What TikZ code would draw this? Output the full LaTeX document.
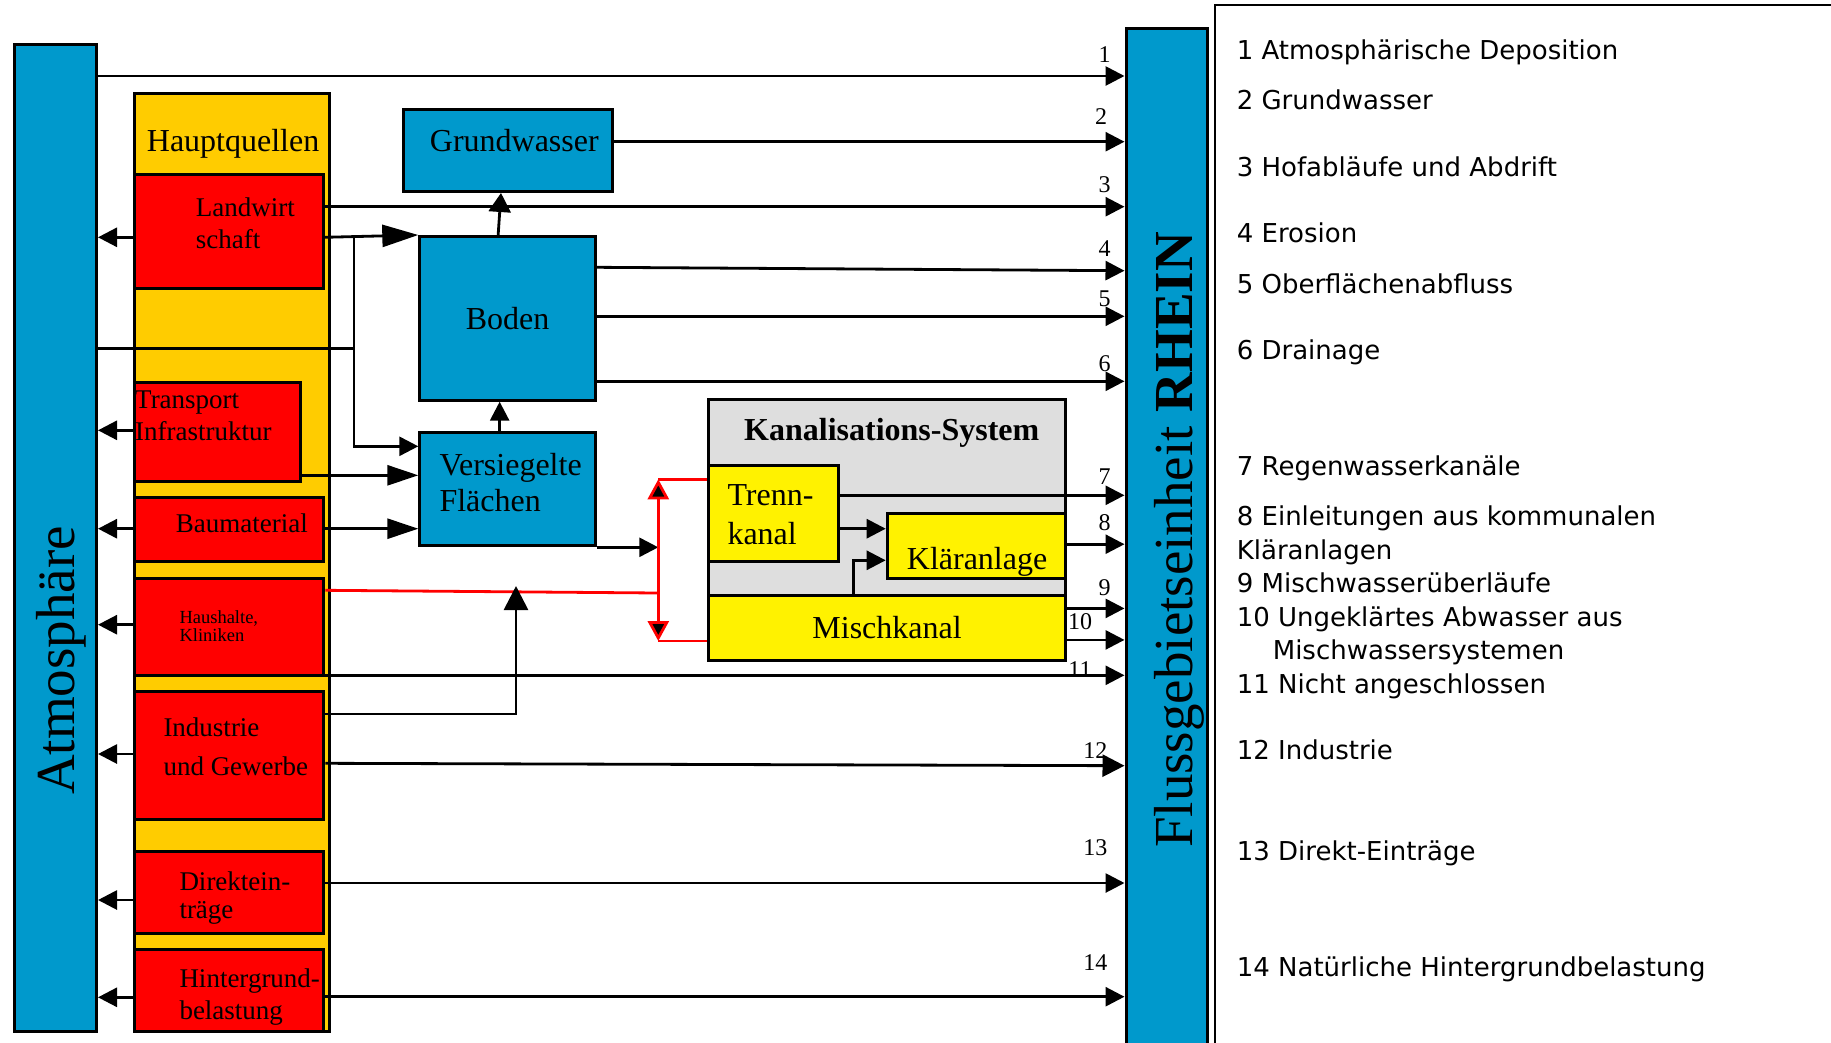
\documentclass[tikz,border=0pt]{standalone}
\usepackage{fontspec}
\setmainfont{Liberation Serif}
\newfontfamily\legendfont{DejaVu Sans}
\usetikzlibrary{arrows.meta}

\definecolor{flussblau}{RGB}{0,153,204}
\definecolor{quellgelb}{RGB}{255,204,0}

\tikzset{
  box/.style={draw=black, line width=3pt, inner sep=0pt, anchor=north west},
  wh/.style 2 args={minimum width=#1pt, minimum height=#2pt},
  blaubox/.style={box, fill=flussblau},
  rotbox/.style={box, fill=red},
  gelbbox/.style={box, fill=yellow},
  txt/.style 2 args={inner sep=0pt, anchor=base west, align=left, font=\fontsize{#1}{#2}\selectfont},
  plain/.style={line width=2.8pt},
  flow/.style={plain, -{Triangle[length=19pt,width=19pt]}},
  longflow/.style={plain, -{Triangle[length=31pt,width=20pt]}},
  bigflow/.style={plain, -{Triangle[length=36pt,width=22pt]}},
  redline/.style={draw=red, line width=2.8pt},
  num/.style={inner sep=0pt, font=\fontsize{24}{24}\selectfont},
  legtxt/.style={inner sep=0pt, anchor=base west, align=left, font=\legendfont\fontsize{26}{33.8}\selectfont},
}

\begin{document}
\begin{tikzpicture}[x=1pt, y=-1pt]
\useasboundingbox (0,0) rectangle (1831,1042);
\clip (0,0) rectangle (1831,1042);

% Atmosphaere und Hauptquellen
\node[blaubox, wh={82.3}{986.7}] (atmo) at (12.7,43.3) {};
\node[box, fill=quellgelb, wh={195}{937.7}] (haupt) at (133.3,92.3) {};
\node[rotbox, wh={188.4}{113.4}] (landw) at (133.3,173.3) {};
\node[rotbox, wh={165.7}{98.4}] (transp) at (133.3,381.3) {};
\node[rotbox, wh={189}{64.3}] (baumat) at (133.3,496) {};
\node[rotbox, wh={189}{96.7}] (haush) at (133.3,577) {};
\node[rotbox, wh={189}{128}] (indus) at (133.3,690) {};
\node[rotbox, wh={189}{82.3}] (direkt) at (133.3,850) {};
\node[rotbox, wh={189}{82}] (hinterg) at (133.3,948) {};

% Boden, Grundwasser, Flaechen
\node[blaubox, wh={208.4}{81.7}] (grundw) at (402.3,108.3) {};
\node[blaubox, wh={175.7}{163.7}, font=\fontsize{32}{38}\selectfont] (boden) at (418.3,235) {Boden};
\node[blaubox, wh={175.7}{113.3}] (versieg) at (418.3,431) {};

% Kanalisation
\node[box, fill=black!13, wh={356.5}{260.7}] (kanal) at (707.3,398) {};
\node[gelbbox, wh={129.4}{96}] (trenn) at (707.3,463.7) {};
\node[gelbbox, wh={178.1}{65}] (klaer) at (885.7,512) {};
\node[gelbbox, wh={356.5}{65}, font=\fontsize{32}{38}\selectfont] (misch) at (707.3,593.7) {Mischkanal};

% Rhein und Legende
\node[blaubox, wh={81.7}{1100}] (rhein) at (1124.5,26.9) {};
\node[draw, line width=2pt, inner sep=0pt, anchor=north west, wh={700}{1100}] (legende) at (1214.4,3.5) {};

% Beschriftungen (mehrzeilig: Basislinie der letzten Zeile)
\node[rotate=90, anchor=base, inner sep=0pt, font=\fontsize{55}{60}\selectfont] (atmo-t) at (74,660.5) {Atmosphäre};
\node[txt={32}{38}] (haupt-t) at (146.7,151.7) {Hauptquellen};
\node[txt={27}{32.3}] (landw-t) at (195.7,248.3) {Landwirt\\schaft};
\node[txt={27}{32.3}] (transp-t) at (135,440.3) {Transport\\Infrastruktur};
\node[txt={27}{32}] (baumat-t) at (175.7,532) {Baumaterial};
\node[txt={18.5}{18.3}] (haush-t) at (179.3,641.3) {Haushalte,\\Kliniken};
\node[txt={27}{39}] (indus-t) at (163.3,775.7) {Industrie\\und Gewerbe};
\node[txt={27}{28}] (direkt-t) at (179.3,918) {Direktein-\\träge};
\node[txt={27}{31.7}] (hinterg-t) at (179.3,1019) {Hintergrund-\\belastung};
\node[txt={32}{38}] (grundw-t) at (429.7,151.7) {Grundwasser};
\node[txt={32}{35.7}] (versieg-t) at (439.3,511) {Versiegelte\\Flächen};
\node[txt={32}{38}] (kanal-t) at (744,440.3) {\textbf{Kanalisations-System}};
\node[txt={32}{39}] (trenn-t) at (727.3,544.3) {Trenn-\\kanal};
\node[txt={32}{38}] (klaer-t) at (906.7,569.7) {Kläranlage};
\node[rotate=90, anchor=base, inner sep=0pt, font=\fontsize{55}{60}\selectfont] (rhein-t) at (1192,540) {Flussgebietseinheit \textbf{RHEIN}};

% Eintraege in den Rhein
\draw[flow] (atmo.east |- 0,76) -- (rhein.west |- 0,76);
\draw[flow] (grundw.east |- 0,141.7) -- (rhein.west |- 0,141.7);
\draw[flow] (landw.east |- 0,206.7) -- (rhein.west |- 0,206.7);
\draw[flow] (boden.east |- 0,267.3) -- (rhein.west |- 0,270.7);
\draw[flow] (boden.east |- 0,316.3) -- (rhein.west |- 0,316.3);
\draw[flow] (boden.east |- 0,381.3) -- (rhein.west |- 0,381.3);
\draw[flow] (trenn.east |- 0,495.3) -- (rhein.west |- 0,495.3);
\draw[flow] (klaer.east |- 0,544.2) -- (rhein.west |- 0,544.2);
\draw[flow] (misch.east |- 0,608.4) -- (rhein.west |- 0,608.4);
\draw[flow] (misch.east |- 0,639.9) -- (rhein.west |- 0,639.9);
\draw[flow] (transp.east |- 0,675.3) -- (rhein.west |- 0,675.3);
\draw[plain, -{Triangle[length=22pt,width=22pt]}] (indus.east |- 0,763.3) -- (rhein.west |- 0,765.7);
\draw[flow] (direkt.east |- 0,883) -- (rhein.west |- 0,883);
\draw[flow] (hinterg.east |- 0,996.7) -- (rhein.west |- 0,996.7);

\foreach \x/\y/\n in {1104.6/54.9/1, 1101/116.8/2, 1104.6/184.5/3, 1104.6/248.7/4,
    1104.6/298.9/5, 1104.6/363.2/6, 1104.6/476.4/7, 1104.6/523.1/8, 1104.6/587.4/9,
    1080/621.2/10, 1080/669.1/11, 1095.3/750.8/12, 1095.3/847.7/13, 1095.3/962.2/14}
  \node[num] (n\n) at (\x,\y) {\n};

% Emissionen in die Atmosphaere
\foreach \q/\y in {landw/237.3, transp/430.3, baumat/528.7, haush/624.7,
    indus/754, direkt/900, hinterg/997.3}
  \draw[flow] (\q.west |- 0,\y) -- (atmo.east |- 0,\y);

% Wege ueber Boden und Flaechen
\coordinate (knot) at (354,237.3);
\draw[bigflow] (landw.east |- knot) -- (boden.north west);
\draw[plain] (atmo.east |- 0,348.7) -- (knot |- 0,348.7);
\draw[flow] (knot) |- (versieg.west |- 0,446.3);
\draw[longflow] (transp.east |- 0,475.3) -- (versieg.west |- 0,475.3);
\draw[longflow] (baumat.east |- 0,528.7) -- (versieg.west |- 0,528.7);
\draw[plain, -{Triangle[length=19pt,width=22pt]}] ([xshift=-9.5pt]boden.north) -- ([xshift=-7pt]grundw.south);
\draw[flow] ([xshift=-8pt]versieg.north) -- ([xshift=-8pt]boden.south);

% Kanalisation
\coordinate (rtop) at (658.3,479.3);
\coordinate (rbot) at (658.3,641);
\coordinate (indtip) at (516,586);
\draw[flow] (versieg.south east) -- (rtop |- versieg.south east);
\draw[redline] (rtop) -- (trenn.west |- rtop);
\draw[redline] (rbot) -- (misch.west |- rbot);
\draw[redline] (haush.east |- 0,590.3) -- (rtop |- 0,593);
\draw[redline, {Triangle[length=20pt,width=21pt,fill=black]}-{Triangle[length=20pt,width=21pt,fill=black]}] (rtop) -- (rbot);
\draw[plain, -{Triangle[length=24pt,width=24pt]}] (indus.east |- 0,714) -| (indtip);
\draw[flow] (trenn.east |- 0,528.7) -- (klaer.west |- 0,528.7);
\draw[flow] (misch.north -| 853.3,0) |- (klaer.west |- 0,560.3);

% Legende
\foreach \y/\eintrag [count=\i] in {59.6/{1 Atmosphärische Deposition}, 109.8/{2 Grundwasser},
    176.3/{3 Hofabläufe und Abdrift}, 242.9/{4 Erosion}, 293.1/{5 Oberflächenabfluss},
    359.7/{6 Drainage}, 475.3/{7 Regenwasserkanäle},
    559.3/{8 Einleitungen aus kommunalen\\Kläranlagen}, 592/{9 Mischwasserüberläufe},
    659.8/{10 Ungeklärtes Abwasser aus\\\hspace*{36pt}Mischwassersystemen},
    693.6/{11 Nicht angeschlossen}, 759/{12 Industrie}, 860.6/{13 Direkt-Einträge},
    976.2/{14 Natürliche Hintergrundbelastung}}
  \node[legtxt] (leg\i) at (1236.6,\y) {\eintrag};
\end{tikzpicture}
\end{document}
